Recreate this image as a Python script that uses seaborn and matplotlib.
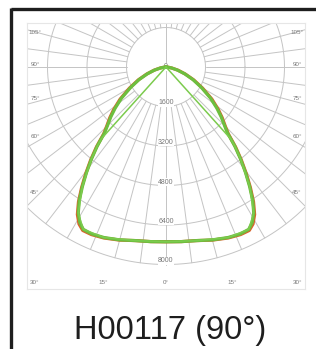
import numpy as np
import pandas as pd
import matplotlib
matplotlib.use("Agg")
import matplotlib.pyplot as plt
from matplotlib.lines import Line2D
import seaborn as sns

# --- data (intensity in cd, angle from nadir in degrees) ---
angles = [0, 5, 10, 15, 20, 24, 27, 29, 31, 33, 35, 37, 39, 41, 43, 45, 48, 51, 55, 60, 65, 70, 75, 80, 85, 90]
green_cd = [7080, 7100, 7140, 7250, 7350, 7400, 7380, 7200, 6900, 6450, 5900, 5350, 4800, 4250,
            3650, 3350, 3000, 2650, 2200, 1650, 1200, 800, 480, 230, 70, 0]
orange_cd = [7080, 7100, 7140, 7260, 7370, 7430, 7430, 7270, 6970, 6510, 5960, 5400, 4850, 4300,
             3700, 3400, 3060, 2720, 2270, 1710, 1240, 830, 500, 240, 70, 0]
thin_angles = [0, 10, 20, 27, 31, 35, 39, 41, 42, 43.2]
thin_cd = [7080, 7140, 7350, 7380, 6900, 5900, 4800, 4250, 3900, 0]

rings = [1600, 3200, 4800, 6400, 8000]
ring_labels = ["0", "1600", "3200", "4800", "6400", "8000"]
side_labels = ["105°", "90°", "75°", "60°", "45°"]
bottom_labels = ["30°", "15°", "0°", "15°", "30°"]
title = "H00117 (90°)"

# pixel layout helpers (figure is 316x349 px)
W, H = 316, 349
s = 1600 / 39.5          # cd per pixel
cx, cy = 166, 67         # polar centre in pixels


def to_xy(ang, r):
    a = np.radians(np.asarray(ang, dtype=float))
    r = np.asarray(r, dtype=float)
    return r * np.sin(a), -r * np.cos(a)


def curve_frame(ang, cd, name):
    ang = list(ang)
    cd = list(cd)
    full_ang = [-a for a in ang[::-1]] + ang[1:]
    full_cd = cd[::-1] + cd[1:]
    x, y = to_xy(full_ang, full_cd)
    return pd.DataFrame({"x": x, "y": y, "curve": name})


sns.set_theme(style="white")
plt.rcParams["font.family"] = ["Liberation Sans", "DejaVu Sans"]

fig = plt.figure(figsize=(W / 100, H / 100), dpi=100)
fig.patch.set_facecolor("white")

left, right, top, bottom = 27, 305, 23, 289
ax = fig.add_axes([left / W, (H - bottom) / H, (right - left) / W, (bottom - top) / H])
ax.set_xlim((left - cx) * s, (right - cx) * s)
ax.set_ylim((cy - bottom) * s, (cy - top) * s)
ax.set_aspect("equal", adjustable="box")
ax.set_xticks([])
ax.set_yticks([])
for sp in ax.spines.values():
    sp.set_color("#e6e6e6")
    sp.set_linewidth(0.8)

grid_col = "#c4c4c4"
grid_lw = 0.7
# rings
t = np.linspace(0, 2 * np.pi, 400)
for r in rings:
    ax.plot(r * np.cos(t), r * np.sin(t), color=grid_col, lw=grid_lw, zorder=1)
# radial lines every 7.5 deg from the first ring to the last one
for a in np.arange(0, 360, 7.5):
    x0, y0 = to_xy(a, rings[0])
    x1, y1 = to_xy(a, rings[-1])
    ax.plot([x0, x1], [y0, y1], color=grid_col, lw=grid_lw, zorder=1)
# axis line through centre
ax.plot([0, 0], [-rings[0], rings[-1]], color=grid_col, lw=grid_lw, zorder=1)

# ring labels
lab_col = "#777777"
for i, lab in enumerate(ring_labels):
    r = 0 if i == 0 else rings[i - 1] - 3.5 * s
    ax.text(0, -r, lab, fontsize=5, color=lab_col, ha="center", va="center", zorder=3,
            bbox=dict(facecolor="white", edgecolor="none", pad=0.3))

# angle labels on the sides
side_py = [32, 64, 98, 137, 193]
for lab, py in zip(side_labels, side_py):
    ax.text((35 - cx) * s, (cy - py) * s, lab, fontsize=4.5, color=lab_col, ha="center", va="center", zorder=3)
    ax.text((297 - cx) * s, (cy - py) * s, lab, fontsize=4.5, color=lab_col, ha="center", va="center", zorder=3)
bottom_px = [35, 103, 166, 232, 298]
for lab, px in zip(bottom_labels, bottom_px):
    ax.text((px - cx) * s, (cy - 282) * s, lab, fontsize=4.5, color=lab_col, ha="center", va="center", zorder=3)

# luminous intensity curves
df = pd.concat([
    curve_frame(angles, orange_cd, "C0-C180"),
    curve_frame(angles, green_cd, "C90-C270"),
], ignore_index=True)
sns.lineplot(data=df, x="x", y="y", hue="curve", sort=False, estimator=None,
             palette={"C0-C180": "#d9622b", "C90-C270": "#6dbf3f"},
             linewidth=2.3, legend=False, ax=ax, zorder=4)
thin = curve_frame(thin_angles, thin_cd, "thin")
sns.lineplot(data=thin, x="x", y="y", sort=False, estimator=None, color="#7ccb4e",
             linewidth=1.1, legend=False, ax=ax, zorder=4)
ax.set_xlabel("")
ax.set_ylabel("")

# outer black frame (only top and left edges visible)
fig.add_artist(Line2D([11 / W, 1.0], [1 - 9 / H, 1 - 9 / H], color="#1e1e1e", lw=2.4,
                      transform=fig.transFigure, solid_capstyle="butt"))
fig.add_artist(Line2D([11 / W, 11 / W], [1 - 7.8 / H, 0], color="#1e1e1e", lw=2.4,
                      transform=fig.transFigure, solid_capstyle="butt"))

fig.text(170 / W, 1 - 330 / H, title, fontsize=23.5, color="#1e1e1e", ha="center", va="center")

fig.savefig("out.png", dpi=100)
